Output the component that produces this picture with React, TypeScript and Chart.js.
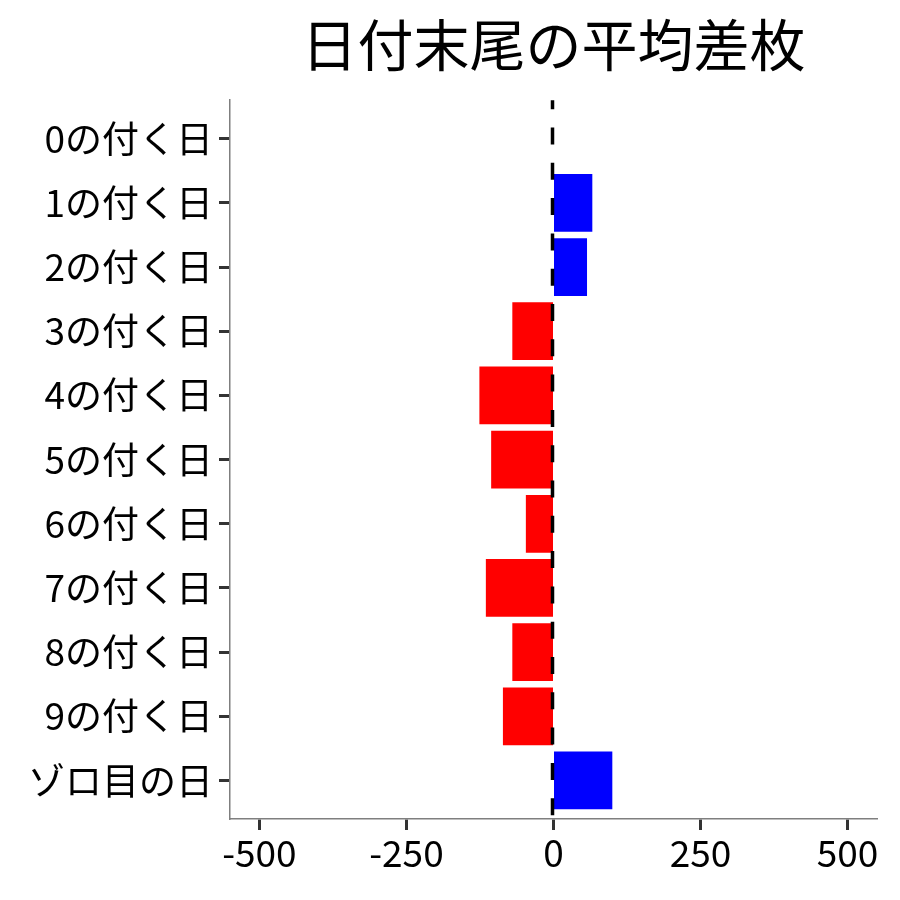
import React, { useEffect, useRef } from "react";
import { Chart, registerables } from "chart.js";

Chart.register(...registerables);

const titleText = "日付末尾の平均差枚";
const categories = [
  "0の付く日",
  "1の付く日",
  "2の付く日",
  "3の付く日",
  "4の付く日",
  "5の付く日",
  "6の付く日",
  "7の付く日",
  "8の付く日",
  "9の付く日",
  "ゾロ目の日",
];
const values = [0, 66, 57, -70, -126, -106, -47, -115, -70, -86, 100];
const xTickValues = [-500, -250, 0, 250, 500];
const xMin = -550;
const xMax = 550;

const FONT = "'Noto Sans CJK JP', 'Noto Sans', sans-serif";

const zeroLinePlugin = {
  id: "zeroLine",
  afterDatasetsDraw(chart: any) {
    const { ctx, chartArea, scales } = chart;
    const x0 = scales.x.getPixelForValue(0);
    ctx.save();
    ctx.strokeStyle = "#000000";
    ctx.lineWidth = 3.5;
    ctx.setLineDash([17, 18.3]);
    ctx.lineDashOffset = 8;
    ctx.beginPath();
    ctx.moveTo(x0 - 1, chartArea.top);
    ctx.lineTo(x0 - 1, chartArea.bottom);
    ctx.stroke();
    ctx.restore();
  },
};

export default function App() {
  const ref = useRef<HTMLCanvasElement | null>(null);

  useEffect(() => {
    document.body.style.margin = "0";
    const canvas = ref.current;
    if (!canvas) return;
    const chart = new Chart(canvas, {
      type: "bar",
      data: {
        datasets: [
          {
            data: values.map((v, i) => ({ x: v, y: i })) as any,
            backgroundColor: values.map((v) => (v >= 0 ? "#0000FF" : "#FF0000")),
            borderWidth: 0,
            barPercentage: 0.9,
            categoryPercentage: 1,
          },
        ],
      },
      options: {
        indexAxis: "y",
        animation: false,
        responsive: false,
        devicePixelRatio: 1,
        layout: { padding: { left: 0, right: 23, top: 0, bottom: 0 } },
        plugins: {
          legend: { display: false },
          tooltip: { enabled: false },
          title: {
            display: true,
            text: titleText,
            fullSize: false,
            color: "#000000",
            font: { family: FONT, size: 56, weight: "normal" },
            padding: { top: 11, bottom: 22 },
          },
        },
        scales: {
          x: {
            type: "linear",
            min: xMin,
            max: xMax,
            afterBuildTicks: (scale: any) => {
              scale.ticks = xTickValues.map((v) => ({ value: v }));
            },
            afterFit: (scale: any) => {
              scale.height = 81;
            },
            grid: {
              drawOnChartArea: false,
              drawTicks: true,
              tickLength: 11,
              tickColor: "#333333",
              tickWidth: 3,
            },
            border: { display: true, color: "#7f7f7f", width: 1.5 },
            ticks: {
              color: "#000000",
              font: { family: FONT, size: 37 },
              padding: 1,
              maxRotation: 0,
              callback: (v: any) => String(v),
            },
          },
          y: {
            type: "linear",
            offset: false,
            min: -0.6,
            max: categories.length - 1 + 0.6,
            reverse: true,
            afterBuildTicks: (scale: any) => {
              scale.ticks = categories.map((_, i) => ({ value: i }));
            },
            afterFit: (scale: any) => {
              scale.width = 230;
            },
            grid: {
              offset: false,
              drawOnChartArea: false,
              drawTicks: true,
              tickLength: 11,
              tickColor: "#333333",
              tickWidth: 3,
            },
            border: { display: true, color: "#7f7f7f", width: 1.5 },
            ticks: {
              color: "#000000",
              font: { family: FONT, size: 37 },
              padding: 6,
              autoSkip: false,
              callback: (v: any) => categories[Math.round(Number(v))] ?? "",
            },
          },
        },
      },
      plugins: [zeroLinePlugin],
    });
    return () => chart.destroy();
  }, []);

  return (
    <div style={{ width: 900, height: 900, background: "#ffffff" }}>
      <canvas ref={ref} width={900} height={900} />
    </div>
  );
}
